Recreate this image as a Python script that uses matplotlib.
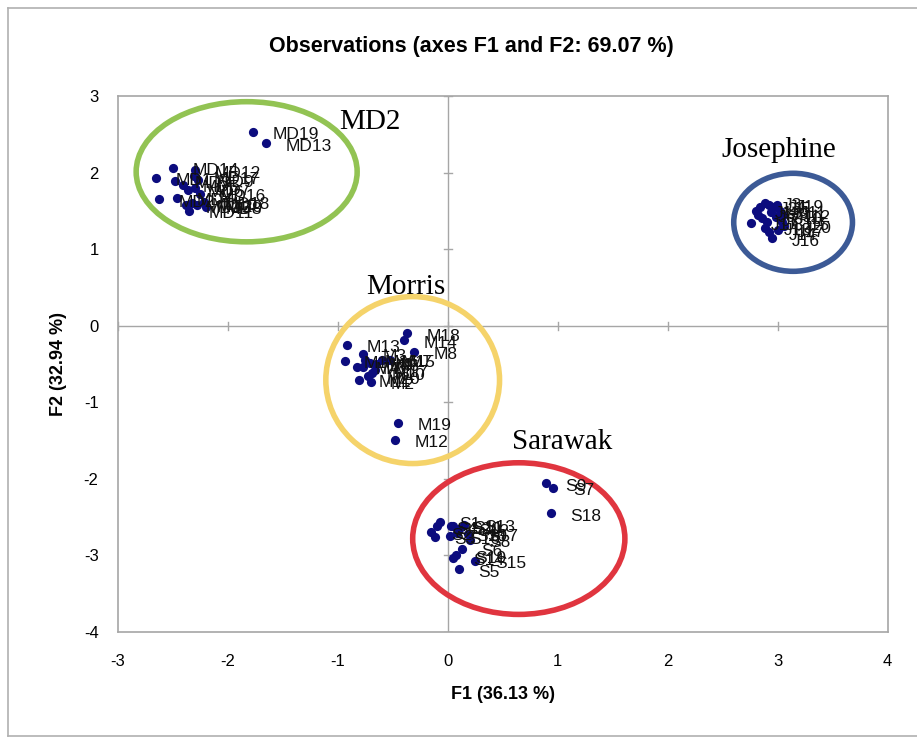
import matplotlib.pyplot as plt
from matplotlib.patches import Ellipse
from matplotlib.lines import Line2D

# observation scores on F1 / F2, one list per variety
md_labels = ['MD1', 'MD2', 'MD3', 'MD4', 'MD5', 'MD6', 'MD7', 'MD8', 'MD9', 'MD10',
             'MD11', 'MD12', 'MD13', 'MD14', 'MD15', 'MD16', 'MD17', 'MD18', 'MD19', 'MD20']
md_f1 = [-2.65, -2.63, -2.48, -2.46, -2.41, -2.36, -2.30, -2.20, -2.27, -2.33,
         -2.35, -2.30, -1.65, -2.50, -2.38, -2.25, -2.31, -2.22, -1.77, -2.28]
md_f2 = [1.93, 1.65, 1.89, 1.67, 1.84, 1.77, 1.80, 1.55, 1.90, 1.60,
         1.50, 2.03, 2.38, 2.06, 1.57, 1.72, 1.95, 1.62, 2.53, 1.58]

j_labels = ['J%d' % i for i in range(1, 21)]
j_f1 = [2.76, 2.84, 2.88, 2.92, 2.96, 2.82, 2.86, 2.90, 2.94, 2.98,
        3.02, 3.05, 2.88, 2.92, 3.04, 2.95, 3.00, 2.80, 2.99, 3.06]
j_f2 = [1.34, 1.55, 1.60, 1.58, 1.55, 1.45, 1.40, 1.35, 1.48, 1.42,
        1.50, 1.45, 1.28, 1.22, 1.35, 1.14, 1.25, 1.50, 1.58, 1.30]

m_labels = ['M%d' % i for i in range(1, 21)]
m_f1 = [-0.94, -0.70, -0.77, -0.83, -0.77, -0.65, -0.53, -0.31, -0.71, -0.69,
        -0.81, -0.48, -0.92, -0.40, -0.60, -0.75, -0.66, -0.37, -0.45, -0.73]
m_f2 = [-0.46, -0.73, -0.37, -0.54, -0.54, -0.50, -0.45, -0.34, -0.49, -0.62,
        -0.71, -1.49, -0.25, -0.19, -0.45, -0.45, -0.58, -0.10, -1.27, -0.66]

s_labels = ['S%d' % i for i in range(1, 21)]
s_f1 = [-0.07, -0.15, -0.12, -0.10, 0.10, 0.13, 0.96, 0.20, 0.89, 0.08,
        0.05, 0.10, 0.15, 0.05, 0.25, 0.02, 0.18, 0.94, 0.07, 0.03]
s_f2 = [-2.56, -2.70, -2.76, -2.62, -3.18, -2.91, -2.12, -2.80, -2.06, -2.71,
        -2.61, -2.65, -2.60, -3.03, -3.07, -2.75, -2.72, -2.45, -3.00, -2.62]

# group outlines: name, centre, width, height, colour, name position
groups = [
    ('MD2', (-1.83, 2.01), 2.01, 1.83, '#92c353', (-0.71, 2.66)),
    ('Josephine', (3.14, 1.35), 1.08, 1.28, '#3c5a96', (3.01, 2.29)),
    ('Morris', (-0.32, -0.71), 1.58, 2.18, '#f5d36a', (-0.38, 0.50)),
    ('Sarawak', (0.645, -2.78), 1.93, 1.98, '#e0353f', (1.04, -1.52)),
]

plt.rcParams['font.family'] = ['Liberation Sans', 'DejaVu Sans']
plt.rcParams['axes.unicode_minus'] = False

fig = plt.figure(figsize=(9.17, 7.38), dpi=100)
ax = fig.add_axes([0.1287, 0.1436, 0.968 - 0.1287, 0.870 - 0.1436])

grey = '#a6a6a6'
ax.axhline(0, color=grey, lw=1, zorder=1)
ax.axvline(0, color=grey, lw=1, zorder=1)
# small cross ticks on the zero lines
for v in range(-3, 5):
    ax.plot([v, v], [-0.05, 0.05], color=grey, lw=1, zorder=1)
for v in range(-4, 4):
    ax.plot([-0.035, 0.035], [v, v], color=grey, lw=1, zorder=1)

navy = '#0c0c7e'
for xs, ys, labs in [(md_f1, md_f2, md_labels), (j_f1, j_f2, j_labels),
                     (m_f1, m_f2, m_labels), (s_f1, s_f2, s_labels)]:
    ax.scatter(xs, ys, s=44, color=navy, zorder=3, linewidths=0)
    for x, y, t in zip(xs, ys, labs):
        ax.annotate(t, (x, y), xytext=(14, -2), textcoords='offset points',
                    ha='left', va='center', fontsize=12.5, color='#111111', zorder=4)

for name, c, w, h, col, pos in groups:
    ax.add_patch(Ellipse(c, w, h, fill=False, edgecolor=col, lw=4, zorder=2))
    ax.text(pos[0], pos[1], name, fontsize=21, family=['Liberation Serif', 'DejaVu Serif'],
            ha='center', va='center', zorder=5)

ax.set_xlim(-3, 4)
ax.set_ylim(-4, 3)
ax.set_xticks(range(-3, 5))
ax.set_yticks(range(-4, 4))
ax.tick_params(length=0, labelsize=12, pad=16)
ax.tick_params(axis='y', pad=14)
for sp in ax.spines.values():
    sp.set_color(grey)
    sp.set_linewidth(1.2)

ax.set_xlabel('F1 (36.13 %)', fontsize=13, fontweight='bold', labelpad=12)
ax.set_ylabel('F2 (32.94 %)', fontsize=13, fontweight='bold', labelpad=12)
fig.text(0.514, 0.937, 'Observations (axes F1 and F2: 69.07 %)', fontsize=15.5,
         fontweight='bold', ha='center', va='center')

# outer chart frame
fig.add_artist(Line2D([0.009, 0.009], [0.003, 0.989], transform=fig.transFigure, color='#b0b0b0', lw=1.2))
fig.add_artist(Line2D([0.009, 1.0], [0.989, 0.989], transform=fig.transFigure, color='#b0b0b0', lw=1.2))
fig.add_artist(Line2D([0.009, 1.0], [0.003, 0.003], transform=fig.transFigure, color='#b0b0b0', lw=1.2))

fig.savefig('out.png', dpi=100)
